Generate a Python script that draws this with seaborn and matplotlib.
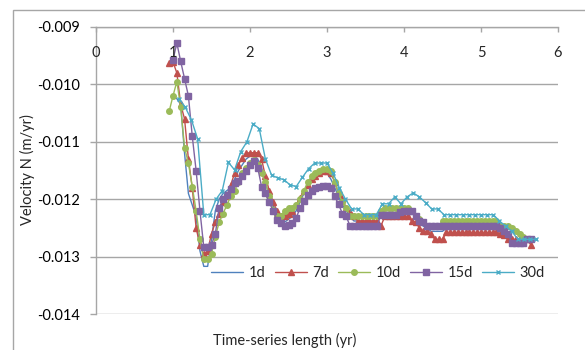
import numpy as np
import pandas as pd
import matplotlib.pyplot as plt
import seaborn as sns
from matplotlib.patches import Rectangle
from matplotlib.ticker import FormatStrFormatter

nan = np.nan

# time-series length (yr) shared by the 1d / 7d / 10d / 15d runs
t = [0.95, 1.00, 1.05, 1.10, 1.15, 1.20, 1.25, 1.30, 1.35, 1.40,
     1.45, 1.50, 1.55, 1.60, 1.65, 1.70, 1.75, 1.80, 1.85, 1.90,
     1.95, 2.00, 2.05, 2.10, 2.15, 2.20, 2.25, 2.30, 2.35, 2.40,
     2.45, 2.50, 2.55, 2.60, 2.65, 2.70, 2.75, 2.80, 2.85, 2.90,
     2.95, 3.00, 3.05, 3.10, 3.15, 3.20, 3.25, 3.30, 3.35, 3.40,
     3.45, 3.50, 3.55, 3.60, 3.65, 3.70, 3.75, 3.80, 3.85, 3.90,
     3.95, 4.00, 4.05, 4.10, 4.15, 4.20, 4.25, 4.30, 4.35, 4.40,
     4.45, 4.50, 4.55, 4.60, 4.65, 4.70, 4.75, 4.80, 4.85, 4.90,
     4.95, 5.00, 5.05, 5.10, 5.15, 5.20, 5.25, 5.30, 5.35, 5.40,
     5.45, 5.50, 5.55, 5.60, 5.65, 5.70]

# velocity N in units of 1e-3 m/yr
v1 = [nan, -10.20, -10.25, -10.35, -11.20, -11.90, -12.10, -12.30, -12.90, -13.17,
      -13.17, -12.70, -12.20, -12.00, -11.90, -11.85, -11.80, -11.65, -11.50, -11.40,
      -11.30, -11.25, -11.25, -11.30, -11.45, -11.70, -11.95, -12.10, -12.30, -12.38,
      -12.40, -12.35, -12.30, -12.20, -12.05, -11.90, -11.78, -11.68, -11.60, -11.55,
      -11.52, -11.55, -11.65, -11.80, -11.95, -12.10, -12.20, -12.30, -12.38, -12.38,
      -12.38, -12.38, -12.38, -12.38, -12.38, -12.30, -12.25, -12.25, -12.25, -12.25,
      -12.25, -12.25, -12.25, -12.25, -12.30, -12.40, -12.47, -12.50, -12.56, -12.56,
      -12.56, -12.56, -12.50, -12.50, -12.50, -12.50, -12.50, -12.50, -12.50, -12.50,
      -12.50, -12.50, -12.50, -12.50, -12.50, -12.50, -12.55, -12.60, -12.65, -12.70,
      -12.72, -12.72, -12.72, -12.72, -12.72, nan]

v7 = [-9.62, -9.61, -9.80, -10.35, -10.60, -11.30, -11.80, -12.50, -12.80, -12.96,
      -12.90, -12.60, -12.40, -12.25, -12.05, -11.95, -11.75, -11.55, -11.40, -11.28,
      -11.20, -11.19, -11.19, -11.19, -11.30, -11.60, -11.85, -12.05, -12.20, -12.30,
      -12.30, -12.25, -12.20, -12.10, -11.98, -11.85, -11.75, -11.65, -11.60, -11.55,
      -11.50, -11.50, -11.55, -11.70, -11.90, -12.00, -12.15, -12.23, -12.30, -12.38,
      -12.38, -12.38, -12.38, -12.38, -12.38, -12.47, -12.30, -12.30, -12.30, -12.30,
      -12.30, -12.30, -12.30, -12.38, -12.40, -12.50, -12.56, -12.56, -12.60, -12.70,
      -12.70, -12.70, -12.58, -12.58, -12.58, -12.58, -12.58, -12.58, -12.58, -12.58,
      -12.58, -12.58, -12.58, -12.58, -12.58, -12.58, -12.60, -12.62, -12.70, -12.70,
      -12.70, -12.70, -12.70, -12.70, -12.80, nan]

v10 = [-10.47, -10.20, -9.95, -10.40, -11.10, -11.37, -11.78, -12.20, -12.70, -13.05,
       -13.05, -12.95, -12.65, -12.40, -12.25, -12.10, -11.95, -11.85, -11.70, -11.55,
       -11.45, -11.37, -11.31, -11.40, -11.55, -11.70, -11.95, -12.18, -12.30, -12.30,
       -12.20, -12.16, -12.16, -12.10, -12.00, -11.85, -11.70, -11.60, -11.55, -11.50,
       -11.47, -11.47, -11.50, -11.70, -11.90, -12.05, -12.15, -12.30, -12.30, -12.30,
       -12.30, -12.30, -12.30, -12.30, -12.30, -12.20, -12.15, -12.15, -12.15, -12.15,
       -12.15, -12.15, -12.15, -12.20, -12.30, -12.35, -12.40, -12.47, -12.47, -12.47,
       -12.47, -12.38, -12.38, -12.38, -12.38, -12.38, -12.38, -12.38, -12.38, -12.38,
       -12.38, -12.38, -12.38, -12.38, -12.38, -12.38, -12.47, -12.47, -12.47, -12.50,
       -12.56, -12.60, -12.65, -12.70, nan, nan]

v15 = [nan, -9.57, -9.28, -9.60, -9.90, -10.20, -10.90, -11.50, -12.20, -12.84,
       -12.84, -12.79, -12.60, -12.15, -12.00, -11.92, -11.82, -11.72, -11.68, -11.60,
       -11.50, -11.40, -11.33, -11.45, -11.78, -11.90, -12.05, -12.20, -12.36, -12.41,
       -12.47, -12.45, -12.41, -12.33, -12.15, -12.03, -11.92, -11.85, -11.80, -11.78,
       -11.77, -11.77, -11.80, -11.95, -12.09, -12.25, -12.30, -12.47, -12.47, -12.47,
       -12.47, -12.47, -12.47, -12.47, -12.47, -12.27, -12.27, -12.27, -12.27, -12.27,
       -12.22, -12.20, -12.20, -12.20, -12.30, -12.38, -12.40, -12.47, -12.47, -12.47,
       -12.47, -12.47, -12.47, -12.47, -12.47, -12.47, -12.47, -12.47, -12.47, -12.47,
       -12.47, -12.47, -12.47, -12.47, -12.47, -12.47, -12.50, -12.56, -12.60, -12.76,
       -12.76, -12.76, -12.76, -12.70, -12.70, nan]

# the 30d run has its own sampling
t30 = [1.08, 1.16, 1.24, 1.32, 1.40, 1.48, 1.56, 1.64, 1.72, 1.80,
       1.88, 1.96, 2.04, 2.12, 2.20, 2.28, 2.36, 2.44, 2.52, 2.60,
       2.68, 2.76, 2.84, 2.92, 3.00, 3.08, 3.16, 3.24, 3.32, 3.40,
       3.48, 3.56, 3.64, 3.72, 3.80, 3.88, 3.96, 4.04, 4.12, 4.20,
       4.28, 4.36, 4.44, 4.52, 4.60, 4.68, 4.76, 4.84, 4.92, 5.00,
       5.08, 5.16, 5.24, 5.32, 5.40, 5.48, 5.56, 5.64, 5.72]
v30 = [-10.25, -10.40, -10.62, -10.95, -12.27, -12.27, -12.00, -11.85, -11.36, -11.49,
       -11.17, -11.00, -10.69, -10.77, -11.30, -11.58, -11.63, -11.66, -11.75, -11.78,
       -11.62, -11.47, -11.37, -11.37, -11.37, -11.55, -11.80, -12.00, -12.17, -12.17,
       -12.27, -12.27, -12.27, -12.08, -12.08, -11.96, -12.08, -11.96, -11.89, -11.96,
       -12.06, -12.17, -12.17, -12.27, -12.27, -12.27, -12.27, -12.27, -12.27, -12.27,
       -12.27, -12.27, -12.38, -12.47, -12.56, -12.70, -12.70, -12.70, -12.70]

series = [
    ("1d", t, v1, "#4F81BD", None, 0),
    ("7d", t, v7, "#C0504D", "^", 4.8),
    ("10d", t, v10, "#9BBB59", "o", 4.0),
    ("15d", t, v15, "#8064A2", "s", 4.0),
    ("30d", t30, v30, "#4BACC6", "x", 3.2),
]

sns.set_style("white")
plt.rcParams["font.family"] = ["Lato", "DejaVu Sans"]
plt.rcParams["axes.unicode_minus"] = False

fig = plt.figure(figsize=(5.85, 3.5), dpi=100)
ax = fig.add_axes([96 / 585, 36 / 350, 462 / 585, 287 / 350])
ax.set_axisbelow(True)

for name, x, v, col, mk, ms in series:
    df = pd.DataFrame({"t": x, "v": np.array(v) * 1e-3}).dropna()
    kw = dict(marker=mk, markersize=ms, markeredgecolor=col, markerfacecolor=col,
              markeredgewidth=1.0) if mk else {}
    sns.lineplot(data=df, x="t", y="v", ax=ax, color=col, linewidth=1.0,
                 estimator=None, sort=False, label=name, **kw)

ax.set_xlim(0, 6)
ax.set_ylim(-0.014, -0.009)
ax.set_yticks([-0.014, -0.013, -0.012, -0.011, -0.010, -0.009])
ax.yaxis.set_major_formatter(FormatStrFormatter("%.3f"))
ax.set_xticks(range(7))
ax.yaxis.grid(True, color="#A6A6A6", linewidth=1)
ax.xaxis.grid(False)

for s in ["right", "bottom"]:
    ax.spines[s].set_visible(False)
for s in ["left", "top"]:
    ax.spines[s].set_color("#A6A6A6")
    ax.spines[s].set_linewidth(1)

ax.tick_params(axis="y", left=True, direction="out", length=4.5, width=1,
               color="#A6A6A6", pad=7, labelsize=10.5, labelcolor="black")
ax.tick_params(axis="x", bottom=False, top=True, direction="in", length=3.5,
               width=1, color="#A6A6A6", labelbottom=False, labeltop=False)
for k in range(7):
    ax.annotate(str(k), xy=(k, 1), xycoords=ax.get_xaxis_transform(),
                xytext=(0, -26), textcoords="offset pixels",
                ha="center", va="center", fontsize=10.5)

ax.set_xlabel("")
ax.set_ylabel("")
fig.text(27 / 585, 1 - 170 / 350, "Velocity N (m/yr)", rotation=90,
         ha="center", va="center", fontsize=10.5)
fig.text(285 / 585, 1 - 340 / 350, "Time-series length (yr)",
         ha="center", va="center", fontsize=10.5)

ax.legend(loc="center", bbox_to_anchor=(378 / 585, 1 - 273 / 350),
          bbox_transform=fig.transFigure, ncol=5, frameon=False,
          fontsize=10.5, handlelength=2.2, handletextpad=0.35,
          columnspacing=0.65)

# outer chart frame (cut off at the right and bottom)
fig.add_artist(Rectangle((13 / 585, -0.2), 1.2, 1.2 + (350 - 9.5) / 350 - 1.0,
                         transform=fig.transFigure, fill=False,
                         edgecolor="#A6A6A6", linewidth=1))

fig.savefig("out.png", dpi=100)
